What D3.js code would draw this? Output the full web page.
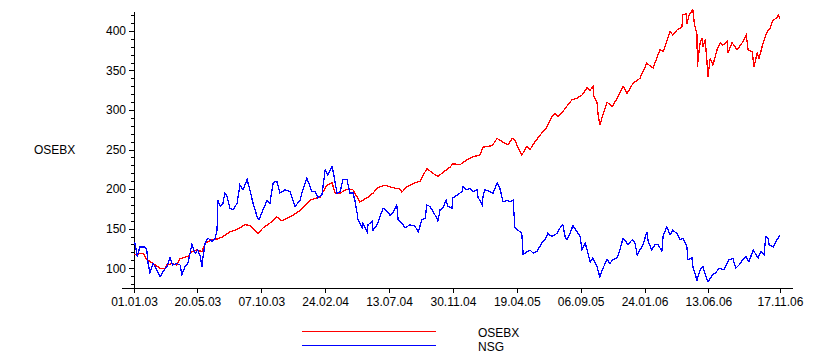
<!DOCTYPE html>
<html>
<head>
<meta charset="utf-8">
<script src="https://cdn.jsdelivr.net/npm/d3@7"></script>
<style>
  body { margin: 0; background: #fff; }
  svg text { font-family: "Liberation Sans", Arial, sans-serif; font-size: 12px; fill: #000; }
</style>
</head>
<body>
<svg id="chart" width="839" height="359"></svg>
<script>
// series names
var seriesNames = ["OSEBX", "NSG"];

// [days since 01.01.03, value]
var osebx = [
  [0,117],[20,119],[28,111],[42,106],[57,100],[68,100],[72,104],[83,106],[94,104],[101,112],
  [118,115],[127,121],[138,123],[149,121],[156,132],[171,136],[184,137],[195,140],[210,146],[226,149],
  [243,155],[254,154],[272,144],[283,151],[298,157],[313,165],[324,160],[342,165],[357,170],[370,176],
  [386,186],[408,190],[423,205],[434,208],[441,195],[452,195],[467,200],[480,199],[495,184],[511,189],
  [524,195],[535,202],[550,205],[566,202],[583,200],[587,196],[598,203],[612,207],[627,210],[642,226],
  [655,220],[666,216],[677,221],[693,228],[699,232],[715,231],[730,237],[743,241],[758,243],[765,253],
  [785,255],[796,264],[807,260],[820,256],[829,264],[835,262],[842,252],[850,243],[861,254],[868,250],
  [879,260],[894,271],[901,275],[907,281],[916,292],[923,296],[929,292],[940,298],[949,305],[960,313],
  [971,315],[982,319],[993,328],[1000,325],[1006,330],[1008,317],[1015,309],[1017,296],[1021,281],[1028,294],
  [1037,310],[1048,304],[1059,315],[1072,330],[1081,321],[1094,334],[1109,340],[1116,349],[1124,359],[1138,353],
  [1146,366],[1153,376],[1160,374],[1168,387],[1175,399],[1181,395],[1190,401],[1201,405],[1203,420],[1210,422],
  [1212,409],[1217,420],[1225,427],[1228,410],[1234,395],[1235,355],[1238,372],[1241,385],[1245,391],[1247,380],
  [1252,389],[1256,361],[1258,342],[1263,365],[1269,357],[1278,376],[1285,385],[1291,382],[1300,387],[1302,372],
  [1311,385],[1322,376],[1333,385],[1342,395],[1346,376],[1355,374],[1359,355],[1366,372],[1370,365],[1379,385],
  [1388,399],[1394,403],[1401,414],[1409,416],[1412,420],[1416,415]
];

var nsg = [
  [0,130],[2,132],[7,115],[13,127],[24,127],[28,123],[31,106],[35,94],[42,106],[50,98],
  [57,89],[64,96],[72,102],[79,113],[85,104],[94,106],[101,104],[105,92],[112,102],[118,106],
  [127,130],[134,119],[140,123],[145,115],[149,102],[151,113],[156,132],[162,138],[171,134],[178,138],
  [182,148],[184,186],[189,178],[195,182],[199,195],[204,191],[210,176],[217,174],[226,182],[232,205],
  [239,199],[248,212],[254,199],[261,182],[270,165],[274,161],[283,174],[292,186],[298,182],[305,208],
  [313,210],[320,195],[331,199],[342,197],[353,178],[364,186],[370,199],[379,214],[386,203],[390,197],
  [397,197],[403,189],[412,193],[419,224],[425,218],[434,228],[436,224],[445,195],[452,197],[458,212],
  [467,212],[473,195],[480,195],[484,186],[489,170],[491,161],[500,151],[502,157],[511,146],[513,155],
  [522,159],[524,148],[533,155],[539,165],[546,176],[555,172],[561,167],[568,170],[576,180],[579,161],
  [587,157],[594,151],[605,155],[616,153],[623,146],[631,161],[638,163],[642,180],[649,178],[655,172],
  [664,163],[666,159],[671,174],[677,176],[684,186],[688,178],[697,176],[699,189],[710,193],[719,197],
  [721,203],[730,199],[737,201],[743,197],[752,199],[754,190],[763,180],[765,191],[769,199],[780,197],
  [787,195],[796,208],[802,201],[809,184],[818,186],[824,184],[831,186],[835,151],[842,148],[850,144],
  [853,117],[857,119],[868,123],[875,119],[883,121],[894,132],[901,136],[907,144],[916,140],[927,144],
  [934,151],[940,155],[945,140],[949,136],[956,144],[962,154],[971,146],[978,140],[982,123],[989,132],
  [995,119],[1000,108],[1006,113],[1015,102],[1021,89],[1028,100],[1037,111],[1043,106],[1050,111],[1059,113],
  [1065,123],[1072,138],[1083,130],[1092,136],[1098,132],[1103,117],[1109,123],[1116,130],[1124,146],[1127,134],
  [1135,123],[1142,130],[1149,130],[1157,121],[1160,142],[1168,152],[1175,142],[1181,148],[1190,144],[1197,136],
  [1203,138],[1212,127],[1214,111],[1223,113],[1225,102],[1234,85],[1241,98],[1247,102],[1254,89],[1258,83],
  [1269,92],[1275,94],[1282,100],[1293,98],[1304,111],[1313,112],[1319,100],[1326,104],[1335,111],[1341,115],
  [1348,108],[1357,123],[1368,113],[1374,121],[1381,117],[1385,140],[1390,138],[1392,130],[1401,127],[1407,134],
  [1414,140],[1416,141]
];

var xTickLabels = ["01.01.03","20.05.03","07.10.03","24.02.04","13.07.04","30.11.04",
                   "19.04.05","06.09.05","24.01.06","13.06.06","17.11.06"];
var yMajorTicks = [100, 150, 200, 250, 300, 350, 400];
var yMinorTicks = d3.range(80, 421, 10);

var parse = d3.timeParse("%d.%m.%y");
var start = parse("01.01.03");
var tickDates = xTickLabels.map(parse);

var svg = d3.select("#chart");

var x = d3.scaleTime()
  .domain([start, parse("17.11.06")])
  .range([134, 780]);
var y = d3.scaleLinear()
  .domain([75, 423])
  .range([288, 12.7]);

function toDate(d) { return d3.timeDay.offset(start, d[0]); }

var line = d3.line()
  .x(function (d) { return x(toDate(d)); })
  .y(function (d) { return y(d[1]); });

// axes
var axisG = svg.append("g").attr("shape-rendering", "crispEdges");

// x axis line runs a bit past both ends
axisG.append("line")
  .attr("x1", 122).attr("x2", 793)
  .attr("y1", 288.5).attr("y2", 288.5)
  .attr("stroke", "#000");

var xAxis = d3.axisBottom(x)
  .tickValues(tickDates)
  .tickFormat(d3.timeFormat("%d.%m.%y"))
  .tickSize(5)
  .tickPadding(4);
var gx = svg.append("g")
  .attr("transform", "translate(0,288)")
  .call(xAxis);
gx.select(".domain").remove();
gx.selectAll("line").attr("shape-rendering", "crispEdges");
gx.selectAll("text").style("font-size", "12px").attr("font-family", null);

var yAxis = d3.axisLeft(y)
  .tickValues(yMajorTicks)
  .tickSize(5)
  .tickPadding(3);
var gy = svg.append("g")
  .attr("transform", "translate(134,0)")
  .call(yAxis);
gy.select(".domain").remove();
gy.selectAll("line").attr("shape-rendering", "crispEdges");
gy.selectAll("text").style("font-size", "12px").attr("font-family", null);

gy.selectAll(".minor")
  .data(yMinorTicks.filter(function (v) { return yMajorTicks.indexOf(v) < 0; }))
  .enter().append("line")
  .attr("class", "minor")
  .attr("x1", -3).attr("x2", 0)
  .attr("y1", function (v) { return Math.round(y(v)) + 0.5; })
  .attr("y2", function (v) { return Math.round(y(v)) + 0.5; })
  .attr("stroke", "#000")
  .attr("shape-rendering", "crispEdges");

axisG.append("line")
  .attr("x1", 134.5).attr("x2", 134.5)
  .attr("y1", 12).attr("y2", 293)
  .attr("stroke", "#000");

// y title
svg.append("text")
  .attr("x", 34).attr("y", 154)
  .text("OSEBX");

// series
svg.append("path")
  .datum(osebx)
  .attr("d", line)
  .attr("fill", "none")
  .attr("stroke", "#ff0000")
  .attr("stroke-width", 1.3)
  .attr("shape-rendering", "crispEdges");

svg.append("path")
  .datum(nsg)
  .attr("d", line)
  .attr("fill", "none")
  .attr("stroke", "#0000ff")
  .attr("stroke-width", 1.3)
  .attr("shape-rendering", "crispEdges");

// legend
var legendColors = ["#ff0000", "#0000ff"];
var leg = svg.append("g");
leg.selectAll("line")
  .data(seriesNames)
  .enter().append("line")
  .attr("x1", 302).attr("x2", 436)
  .attr("y1", function (d, i) { return 331.5 + i * 14; })
  .attr("y2", function (d, i) { return 331.5 + i * 14; })
  .attr("stroke", function (d, i) { return legendColors[i]; })
  .attr("shape-rendering", "crispEdges");
leg.selectAll("text")
  .data(seriesNames)
  .enter().append("text")
  .attr("x", 478)
  .attr("y", function (d, i) { return 337 + i * 14; })
  .text(function (d) { return d; });
</script>
</body>
</html>
